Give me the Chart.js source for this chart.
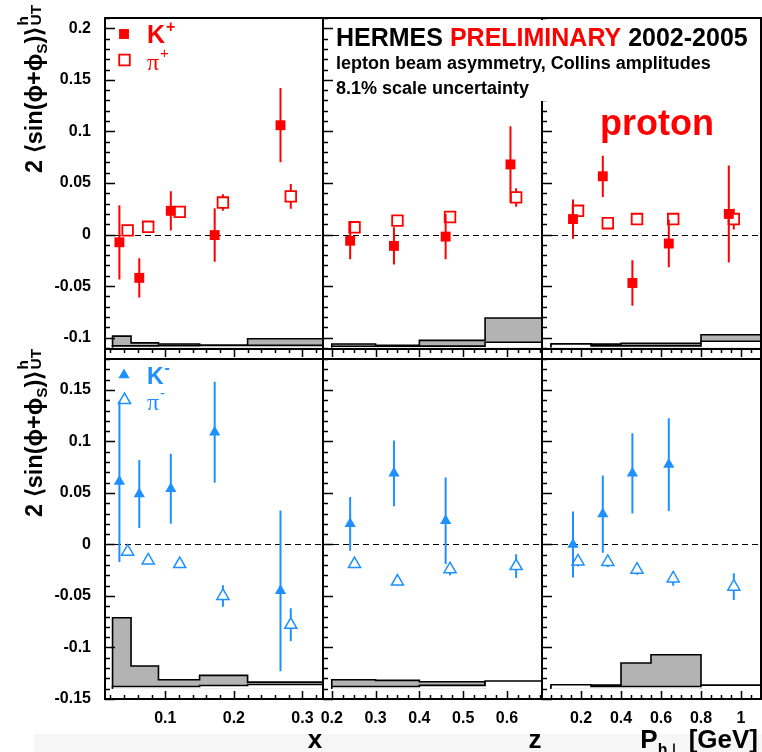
<!DOCTYPE html>
<html>
<head>
<meta charset="utf-8">
<title>HERMES Collins amplitudes - kaons and pions on a proton target</title>
<script src="https://cdn.jsdelivr.net/npm/chart.js@4/dist/chart.umd.min.js"></script>
<style>
  body { margin: 0; background: #fff; }
  #page { position: relative; width: 762px; height: 752px; overflow: hidden; }
  #page canvas { position: absolute; left: 0; top: 0; }
  #strip { position: absolute; left: 34px; top: 734px; width: 728px; height: 18px; background: #f6f6f6; }
</style>
</head>
<body>
<div id="page"><div id="strip"></div></div>
<script>
const FONT = '"Liberation Sans", Arial, Helvetica, sans-serif';
Chart.defaults.font.family = FONT;
Chart.defaults.color = '#000';

const RED = '#ff0000';
const BLUE = '#1e90ff';
const BAND = '#b3b3b3';

// bin centres (pion points are shifted right of the kaons)
const xK = [0.033, 0.062, 0.108, 0.172, 0.268];
const xPi = [0.045, 0.075, 0.121, 0.184, 0.283];
const zK = [0.242, 0.342, 0.460, 0.608];
const zPi = [0.252, 0.350, 0.470, 0.621];
const ptK = [0.160, 0.309, 0.457, 0.639, 0.939];
const ptPi = [0.185, 0.334, 0.480, 0.661, 0.964];

// positive hadrons
const kPlusX = [-0.0075, -0.042, 0.023, -0.0005, 0.106];
const kPlusXErr = [0.036, 0.019, 0.019, 0.026, 0.036];
const piPlusX = [0.004, 0.0075, 0.022, 0.031, 0.037];
const piPlusXErr = [0.004, 0.004, 0.004, 0.008, 0.012];
const kPlusZ = [-0.006, -0.011, -0.002, 0.068];
const kPlusZErr = [0.018, 0.018, 0.022, 0.037];
const piPlusZ = [0.007, 0.0135, 0.017, 0.036];
const piPlusZErr = [0.003, 0.003, 0.004, 0.009];
const kPlusPt = [0.015, 0.0565, -0.047, -0.0087, 0.020];
const kPlusPtErr = [0.019, 0.020, 0.022, 0.023, 0.047];
const piPlusPt = [0.023, 0.011, 0.015, 0.015, 0.015];
const piPlusPtErr = [0.004, 0.004, 0.004, 0.004, 0.010];

// negative hadrons
const kMinusX = [0.061, 0.049, 0.054, 0.109, -0.045];
const kMinusXErr = [0.078, 0.033, 0.034, 0.049, 0.078];
const piMinusX = [-0.007, -0.0155, -0.019, -0.050, -0.078];
const piMinusXErr = [0.004, 0.004, 0.004, 0.0105, 0.016];
const kMinusZ = [0.020, 0.069, 0.023];
const kMinusZErr = [0.026, 0.032, 0.042];
const piMinusZ = [-0.019, -0.036, -0.024, -0.021];
const piMinusZErr = [0.004, 0.004, 0.006, 0.0115];
const kMinusPt = [0.000, 0.0295, 0.069, 0.0775];
const kMinusPtErr = [0.032, 0.0375, 0.039, 0.045];
const piMinusPt = [-0.0165, -0.017, -0.0245, -0.033, -0.041];
const piMinusPtErr = [0.005, 0.005, 0.005, 0.007, 0.013];

// systematic bands: bin edges and band heights above the baseline
const xEdges = [0.023, 0.05, 0.09, 0.15, 0.22, 0.4];
const zEdges = [0.2, 0.3, 0.4, 0.55, 0.7];
const ptEdges = [0.05, 0.25, 0.4, 0.55, 0.8, 1.2];
const sysKPlusX = [0.011, 0.0044, 0.0034, 0.002, 0.0085];
const sysPiPlusX = [0.0015, 0.0015, 0.0018, 0.002, 0.002];
const sysKPlusZ = [0.0034, 0.002, 0.0069, 0.0286];
const sysPiPlusZ = [0.0011, 0.0011, 0.0013, 0.005];
const sysKPlusPt = [0.0027, 0.0032, 0.004, 0.004, 0.0123];
const sysPiPlusPt = [0.0035, 0.0015, 0.0015, 0.0015, 0.006];
const sysKMinusX = [0.0689, 0.0221, 0.0087, 0.0129, 0.0064];
const sysPiMinusX = [0.0022, 0.0022, 0.0022, 0.0031, 0.0041];
const sysKMinusZ = [0.0087, 0.0081, 0.0068];
const sysPiMinusZ = [0.0022, 0.0022, 0.0032, 0.0074];
const sysKMinusPt = [0.0029, 0.0035, 0.0249, 0.033];
const sysPiMinusPt = [0.0039, 0.0021, 0.0021, 0.0021, 0.0035];

// axis tick labels
const yTicksTop = [-0.1, -0.05, 0, 0.05, 0.1, 0.15, 0.2];
const yTicksBottom = [-0.15, -0.1, -0.05, 0, 0.05, 0.1, 0.15];
const xTicks = [0.1, 0.2, 0.3];
const zTicks = [0.2, 0.3, 0.4, 0.5, 0.6];
const ptTicks = [0.2, 0.4, 0.6, 0.8, 1];

const W = 762, H = 752;

const cols = [
  { left: 105, right: 323, min: 0.012, max: 0.33, ticks: xTicks, minor: 0.02, edges: xEdges },
  { left: 323, right: 542, min: 0.18, max: 0.68, ticks: zTicks, minor: 0.025, edges: zEdges },
  { left: 542, right: 761, min: 0.005, max: 1.1, ticks: ptTicks, minor: 0.05, edges: ptEdges }
];
const rows = [
  { top: 18, bottom: 349, min: -0.111, max: 0.21, ticks: yTicksTop, base: -0.1095, color: RED, shape: 'rect' },
  { top: 359, bottom: 699, min: -0.15, max: 0.18, ticks: yTicksBottom, base: -0.140, color: BLUE, shape: 'triangle' }
];

const fmt = v => String(+(+v).toFixed(3));

function markerStyle(row, hollow) {
  const tri = row.shape === 'triangle';
  const r = tri ? (hollow ? 7 : 6.5) : (hollow ? 7.5 : 7);
  return {
    pointStyle: row.shape, radius: r, rotation: 0,
    borderWidth: hollow ? (tri ? 1.5 : 1.8) : 0,
    fill: hollow ? 'rgba(0,0,0,0)' : row.color,
    gapTop: hollow ? (tri ? r : r * Math.SQRT1_2) : 0,
    gapBottom: hollow ? (tri ? r / 2 : r * Math.SQRT1_2) : 0
  };
}

function points(xs, ys, errs, row, hollow) {
  const m = markerStyle(row, hollow);
  return {
    type: 'scatter',
    data: ys.map((y, i) => ({ x: xs[i], y })),
    yErr: errs, gapTop: m.gapTop, gapBottom: m.gapBottom,
    pointStyle: m.pointStyle, pointRadius: m.radius, pointHoverRadius: m.radius,
    pointBackgroundColor: m.fill, pointBorderColor: row.color, pointBorderWidth: m.borderWidth,
    order: 0
  };
}

function band(edges, heights, base, fill, order) {
  const pts = [{ x: edges[0], y: base }];
  heights.forEach((h, i) => pts.push({ x: edges[i + 1], y: base + h }));
  pts.push({ x: edges[heights.length], y: base });
  return {
    type: 'line', data: pts, stepped: 'after', fill: { value: base },
    backgroundColor: fill, borderColor: '#000', borderWidth: 1.6,
    pointRadius: 0, clip: 0, order
  };
}

// statistical error bars, kept outside hollow markers
const errorBars = {
  id: 'errorBars',
  afterDatasetsDraw(chart) {
    const { ctx } = chart;
    const ys = chart.scales.y;
    ctx.save();
    ctx.lineWidth = 2;
    chart.data.datasets.forEach((ds, i) => {
      if (!ds.yErr) return;
      const meta = chart.getDatasetMeta(i);
      ctx.strokeStyle = ds.pointBorderColor;
      meta.data.forEach((pt, j) => {
        const v = ds.data[j].y, e = ds.yErr[j];
        const top = ys.getPixelForValue(v + e), bot = ys.getPixelForValue(v - e);
        ctx.beginPath();
        if (top < pt.y - ds.gapTop) { ctx.moveTo(pt.x, top); ctx.lineTo(pt.x, pt.y - ds.gapTop); }
        if (bot > pt.y + ds.gapBottom) { ctx.moveTo(pt.x, pt.y + ds.gapBottom); ctx.lineTo(pt.x, bot); }
        ctx.stroke();
      });
    });
    ctx.restore();
  }
};

// ROOT-like frame: inward y ticks, x ticks, dashed zero line
const panelFrame = {
  id: 'panelFrame',
  beforeDatasetsDraw(chart) {
    const { ctx, chartArea: a } = chart;
    const y0 = Math.round(chart.scales.y.getPixelForValue(0)) + 0.5;
    ctx.save();
    ctx.strokeStyle = '#000';
    ctx.lineWidth = 1.2;
    ctx.setLineDash([6, 4]);
    ctx.beginPath(); ctx.moveTo(a.left, y0); ctx.lineTo(a.right, y0); ctx.stroke();
    ctx.restore();
  },
  afterDraw(chart, args, o) {
    const { ctx, chartArea: a, scales: { x, y } } = chart;
    ctx.save();
    ctx.strokeStyle = '#000';
    ctx.lineWidth = 1.5;
    ctx.beginPath();
    const isMajor = (list, v) => list.some(t => Math.abs(t - v) < 1e-9);
    for (let k = Math.ceil(y.min / 0.01 - 1e-6); k * 0.01 <= y.max + 1e-9; k++) {
      const v = k * 0.01, py = Math.round(y.getPixelForValue(v)) + 0.5;
      const len = isMajor(o.yTicks, +v.toFixed(3)) ? 10 : 5;
      ctx.moveTo(a.left, py); ctx.lineTo(a.left + len, py);
    }
    for (let k = Math.ceil(x.min / o.minor - 1e-6); k * o.minor <= x.max - 0.004; k++) {
      const v = +(k * o.minor).toFixed(4), px = Math.round(x.getPixelForValue(v)) + 0.5;
      const len = isMajor(o.xTicks, v) ? 8 : 4;
      ctx.moveTo(px, a.bottom);
      ctx.lineTo(px, o.ticksDown ? a.bottom + len : a.bottom - len);
    }
    ctx.stroke();
    ctx.lineWidth = 2;
    ctx.strokeRect(a.left, a.top, a.right - a.left, a.bottom - a.top);
    if (o.ticksDown) {
      ctx.beginPath();
      ctx.moveTo(a.left, a.bottom); ctx.lineTo(a.left, a.bottom + 10);
      ctx.moveTo(a.right, a.bottom); ctx.lineTo(a.right, a.bottom + 10);
      ctx.stroke();
    }
    ctx.restore();
    if (o.decor) o.decor(ctx);
  }
};

function drawYTitle(ctx, x, yStart, len) {
  const big = 'bold 23px ' + FONT, small = 'bold 15px ' + FONT;
  const segs = [
    { t: '2 \u27E8sin(\u03D5+\u03D5', f: big, dy: 0 },
    { t: 'S', f: small, dy: 5 },
    { t: ')\u27E9', f: big, dy: 0 }
  ];
  ctx.save();
  ctx.translate(x, yStart);
  ctx.rotate(-Math.PI / 2);
  let w = 0;
  segs.forEach(s => { ctx.font = s.f; s.w = ctx.measureText(s.t).width; w += s.w; });
  ctx.font = small;
  const tail = Math.max(ctx.measureText('UT').width, ctx.measureText('h').width) + 1;
  ctx.scale(len / (w + tail), 1);
  ctx.fillStyle = '#000';
  let cx = 0;
  segs.forEach(s => { ctx.font = s.f; ctx.fillText(s.t, cx, s.dy); cx += s.w; });
  ctx.font = small;
  ctx.fillText('h', cx + 1, -14);
  ctx.fillText('UT', cx + 1, -1);
  ctx.restore();
}

function marker(ctx, row, hollow, px, py) {
  const m = markerStyle(row, hollow);
  ctx.save();
  ctx.fillStyle = m.fill;
  ctx.strokeStyle = row.color;
  ctx.lineWidth = m.borderWidth;
  Chart.helpers.drawPoint(ctx, m, px, py);
  ctx.restore();
}

function drawLegend(ctx, row, sign, yK, yPi, kSize) {
  ctx.save();
  ctx.fillStyle = row.color;
  marker(ctx, row, false, 124, yK - 9);
  marker(ctx, row, true, 124.5, yPi - 10);
  ctx.font = 'bold ' + kSize + 'px ' + FONT;
  ctx.fillText('K', 147, yK);
  const kw = ctx.measureText('K').width;
  ctx.font = 'bold 16px ' + FONT;
  ctx.fillText(sign, 147 + kw + 1, yK - 11);
  ctx.font = '24px "Liberation Serif", "DejaVu Serif", serif';
  ctx.fillText('\u03C0', 147, yPi);
  const pw = ctx.measureText('\u03C0').width;
  ctx.font = '15px ' + FONT;
  ctx.fillText(sign, 147 + pw + 1, yPi - 12);
  ctx.restore();
}

function drawHeader(ctx) {
  ctx.save();
  ctx.fillStyle = '#fff';
  ctx.fillRect(335, 20, 424, 81);
  ctx.font = 'bold 25px ' + FONT;
  let x = 336;
  [['HERMES ', '#000'], ['PRELIMINARY', RED], [' 2002-2005', '#000']].forEach(([t, c]) => {
    ctx.fillStyle = c;
    ctx.fillText(t, x, 46);
    x += ctx.measureText(t).width;
  });
  ctx.fillStyle = '#000';
  ctx.font = 'bold 18px ' + FONT;
  ctx.fillText('lepton beam asymmetry, Collins amplitudes', 336, 69);
  ctx.fillText('8.1% scale uncertainty', 336, 94);
  ctx.fillStyle = RED;
  ctx.font = 'bold 36px ' + FONT;
  ctx.fillText('proton', 600, 135);
  ctx.restore();
}

function drawXTitle(ctx, col) {
  ctx.save();
  ctx.fillStyle = '#000';
  const big = 'bold 26px ' + FONT, small = 'bold 16px ' + FONT;
  if (col < 2) {
    ctx.font = big;
    ctx.textAlign = 'center';
    ctx.fillText(col === 0 ? 'x' : 'z', col === 0 ? 315 : 535, 748);
  } else {
    const segs = [['P', big, 0], ['h\u22A5', small, 7], [' [GeV]', big, 0]];
    let w = 0;
    segs.forEach(s => { ctx.font = s[1]; s.w = ctx.measureText(s[0]).width; w += s.w; });
    let cx = 758 - w;
    segs.forEach(s => { ctx.font = s[1]; ctx.fillText(s[0], cx, 748 + s[2]); cx += s.w; });
  }
  ctx.restore();
}

function makePanel(ri, ci, xs, xsPi, k, kErr, pi, piErr, kSys, piSys, decor) {
  const row = rows[ri], col = cols[ci];
  const showY = ci === 0, showX = ri === 1;
  const canvas = document.createElement('canvas');
  canvas.width = W; canvas.height = H;
  document.getElementById('page').appendChild(canvas);

  new Chart(canvas, {
    type: 'scatter',
    data: {
      datasets: [
        points(xs, k, kErr, row, false),
        points(xsPi, pi, piErr, row, true),
        band(col.edges, piSys, row.base, '#fff', 1),
        band(col.edges, kSys, row.base, BAND, 2)
      ]
    },
    options: {
      responsive: false,
      animation: false,
      events: [],
      layout: {
        autoPadding: false,
        padding: {
          left: showY ? 0 : col.left,
          right: W - col.right,
          top: row.top,
          bottom: showX ? H - row.bottom - 30 : H - row.bottom
        }
      },
      plugins: {
        legend: { display: false },
        tooltip: { enabled: false },
        panelFrame: { xTicks: col.ticks, yTicks: row.ticks, minor: col.minor, ticksDown: ri === 0, decor }
      },
      scales: {
        x: {
          type: 'linear', min: col.min, max: col.max, display: showX,
          afterBuildTicks: s => { s.ticks = col.ticks.map(v => ({ value: v })); },
          afterFit: s => { if (showX) s.height = 30; s.paddingLeft = 0; s.paddingRight = 0; },
          grid: { display: false, drawTicks: false },
          border: { display: false },
          ticks: { padding: 10, autoSkip: false, maxRotation: 0, minRotation: 0,
                   font: { size: 16, weight: 'bold' }, callback: fmt }
        },
        y: {
          type: 'linear', min: row.min, max: row.max, display: showY,
          afterBuildTicks: s => { s.ticks = row.ticks.map(v => ({ value: v })); },
          afterFit: s => { if (showY) s.width = col.left; s.paddingTop = 0; s.paddingBottom = 0; },
          grid: { display: false, drawTicks: false },
          border: { display: false },
          ticks: { padding: 14, autoSkip: false, font: { size: 16, weight: 'bold' }, callback: fmt }
        }
      }
    },
    plugins: [panelFrame, errorBars]
  });
}

makePanel(0, 0, xK, xPi, kPlusX, kPlusXErr, piPlusX, piPlusXErr, sysKPlusX, sysPiPlusX, ctx => {
  drawYTitle(ctx, 42, 173, 168);
  drawLegend(ctx, rows[0], '+', 43, 70, 25);
});
makePanel(0, 1, zK, zPi, kPlusZ, kPlusZErr, piPlusZ, piPlusZErr, sysKPlusZ, sysPiPlusZ);
makePanel(1, 0, xK, xPi, kMinusX, kMinusXErr, piMinusX, piMinusXErr, sysKMinusX, sysPiMinusX, ctx => {
  drawYTitle(ctx, 42, 517, 168);
  drawLegend(ctx, rows[1], '-', 384, 410, 23);
  drawXTitle(ctx, 0);
});
makePanel(1, 1, zK, zPi, kMinusZ, kMinusZErr, piMinusZ, piMinusZErr, sysKMinusZ, sysPiMinusZ, ctx => drawXTitle(ctx, 1));
makePanel(1, 2, ptK, ptPi, kMinusPt, kMinusPtErr, piMinusPt, piMinusPtErr, sysKMinusPt, sysPiMinusPt, ctx => drawXTitle(ctx, 2));
makePanel(0, 2, ptK, ptPi, kPlusPt, kPlusPtErr, piPlusPt, piPlusPtErr, sysKPlusPt, sysPiPlusPt, drawHeader);
</script>
</body>
</html>
